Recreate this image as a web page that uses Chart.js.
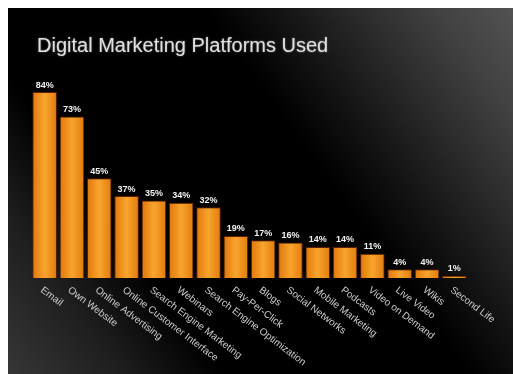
<!DOCTYPE html>
<html>
<head>
<meta charset="utf-8">
<script src="https://cdn.jsdelivr.net/npm/chart.js@4/dist/chart.umd.min.js"></script>
<style>
  html, body { margin: 0; padding: 0; background: #fff; }
  #wrap { position: absolute; left: 8px; top: 8px; width: 505px; height: 366px; }
</style>
</head>
<body>
<div id="wrap"><canvas id="platforms" width="505" height="366"></canvas></div>
<script>
const chartTitle = 'Digital Marketing Platforms Used';
const platforms = [
  'Email', 'Own Website', 'Online Advertising', 'Online Customer Interface',
  'Search Engine Marketing', 'Webinars', 'Search Engine Optimization', 'Pay-Per-Click',
  'Blogs', 'Social Networks', 'Mobile Marketing', 'Podcasts',
  'Video on Demand', 'Live Video', 'Wikis', 'Second Life'
];
const usedPercent = [84, 73, 45, 37, 35, 34, 32, 19, 17, 16, 14, 14, 11, 4, 4, 1];

// dark slide background, greyer towards top-right and bottom-left
const slideBackground = {
  id: 'slideBackground',
  beforeDraw(chart) {
    const { ctx, width, height } = chart;
    const g = ctx.createLinearGradient(width, 0, 0, height);
    g.addColorStop(0, '#525252');
    g.addColorStop(0.1, '#424242');
    g.addColorStop(0.2, '#2c2c2c');
    g.addColorStop(0.3, '#151515');
    g.addColorStop(0.4, '#000');
    g.addColorStop(0.72, '#000');
    g.addColorStop(0.85, '#1e1e1e');
    g.addColorStop(1, '#363636');
    ctx.save();
    ctx.fillStyle = g;
    ctx.fillRect(0, 0, width, height);
    ctx.fillStyle = '#e0e0e0';
    ctx.font = '20px "Liberation Sans", Arial, sans-serif';
    ctx.textBaseline = 'alphabetic';
    ctx.shadowColor = 'rgba(220,220,220,0.5)';
    ctx.shadowBlur = 2;
    ctx.fillText(chartTitle, 29, 44);
    ctx.restore();
  }
};

// percentages over the bars and slanted category names under them
const barText = {
  id: 'barText',
  afterDatasetsDraw(chart) {
    const { ctx } = chart;
    const x = chart.scales.x;
    const y = chart.scales.y;
    const bottom = chart.chartArea.bottom;
    ctx.save();
    ctx.font = 'bold 9px "Liberation Sans", Arial, sans-serif';
    ctx.fillStyle = '#f2f2f2';
    ctx.textAlign = 'center';
    ctx.textBaseline = 'middle';
    usedPercent.forEach((v, i) => {
      ctx.fillText(v + '%', x.getPixelForValue(i), y.getPixelForValue(v) - 7);
    });
    ctx.font = '10px "Liberation Sans", Arial, sans-serif';
    ctx.fillStyle = '#cccccc';
    ctx.textAlign = 'left';
    platforms.forEach((name, i) => {
      ctx.save();
      ctx.translate(x.getPixelForValue(i) - 3, bottom + 11);
      ctx.rotate(37 * Math.PI / 180);
      ctx.fillText(name, 0, 0);
      ctx.restore();
    });
    ctx.restore();
  }
};

function barFill(c) {
  const chart = c.chart;
  if (!chart.chartArea) return '#f39a1e';
  const xs = chart.scales.x;
  const cx = xs.getPixelForValue(c.dataIndex);
  const half = xs.width / platforms.length * 0.45;
  const g = chart.ctx.createLinearGradient(cx - half, 0, cx + half, 0);
  g.addColorStop(0, '#e0760c');
  g.addColorStop(0.5, '#f8a52c');
  g.addColorStop(1, '#e27a0e');
  return g;
}

new Chart(document.getElementById('platforms'), {
  type: 'bar',
  data: {
    labels: platforms,
    datasets: [{
      data: usedPercent,
      backgroundColor: barFill,
      borderColor: '#5c1e04',
      borderWidth: 1,
      barPercentage: 0.9,
      categoryPercentage: 1.0
    }]
  },
  options: {
    responsive: false,
    animation: false,
    layout: { padding: { left: 23, right: 45, top: 48.6, bottom: 96 } },
    plugins: {
      legend: { display: false },
      tooltip: { enabled: false }
    },
    scales: {
      x: { display: false },
      y: { display: false, min: 0, max: 100 }
    }
  },
  plugins: [slideBackground, barText]
});
</script>
</body>
</html>
